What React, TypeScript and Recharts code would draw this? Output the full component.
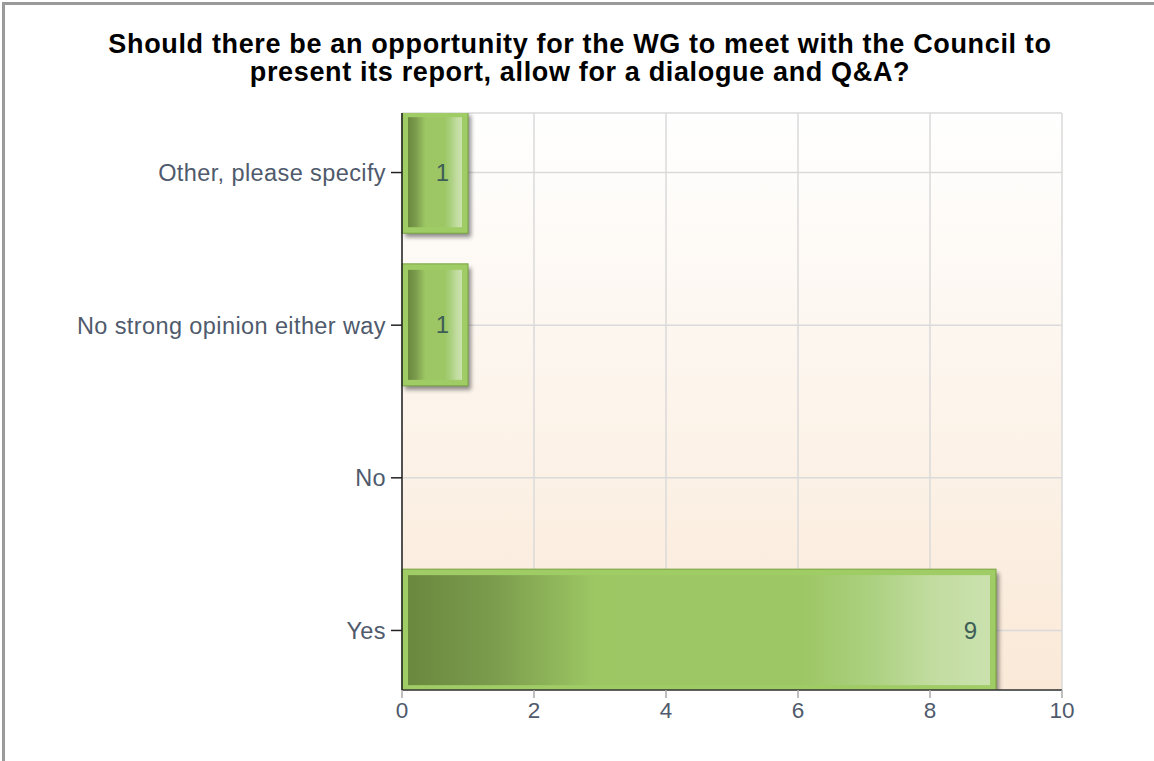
import { BarChart, Bar, XAxis, YAxis, CartesianGrid, LabelList } from 'recharts';

// answers listed top to bottom
const answers = ['Other, please specify', 'No strong opinion either way', 'No', 'Yes'];
const responses = [1, 1, 0, 9];
const countTicks = [0, 2, 4, 6, 8, 10];

const data = answers.map((answer, i) => ({ idx: i, answer, count: responses[i] }));

const FONT = '"Liberation Sans", Arial, Helvetica, sans-serif';
const TICK_COLOR = '#4f5a6c';

function GlossyBar(props: any) {
  const { x, y, width, height } = props;
  if (!width || width <= 0) return null;
  const inset = 6;
  return (
    <g>
      <rect x={x + 3} y={y + 4} width={width} height={height} fill="#333" opacity={0.55} filter="url(#barShadow)" />
      <rect x={x} y={y} width={width} height={height} fill="#9fcc64" stroke="#78a442" strokeWidth={1} />
      <rect
        x={x + inset}
        y={y + inset}
        width={Math.max(width - inset * 2, 0)}
        height={Math.max(height - inset * 2, 0)}
        fill="url(#barFill)"
      />
    </g>
  );
}

export default function App() {
  return (
    <div style={{ position: 'absolute', left: 0, top: 0, width: 1154, height: 761, background: '#fff', fontFamily: FONT }}>
      <div
        style={{
          position: 'absolute',
          left: 2,
          top: 2,
          width: 1152,
          height: 759,
          borderLeft: '3px solid #9a9a9a',
          borderTop: '3px solid #9a9a9a',
        }}
      />
      <div
        style={{
          position: 'absolute',
          left: 0,
          top: 30,
          width: 1160,
          textAlign: 'center',
          fontSize: 27,
          lineHeight: '28px',
          fontWeight: 'bold',
          letterSpacing: 0.65,
          color: '#000',
        }}
      >
        Should there be an opportunity for the WG to meet with the Council to
        <br />
        present its report, allow for a dialogue and Q&amp;A?
      </div>
      <div style={{ position: 'absolute', left: 0, top: 0 }}>
        <BarChart
          width={1154}
          height={761}
          data={data}
          layout="vertical"
          margin={{ top: 113, right: 92, bottom: 31, left: 0 }}
        >
          <defs>
            <linearGradient id="bgFill" x1="0" y1="0" x2="0" y2="1">
              <stop offset="0%" stopColor="#ffffff" />
              <stop offset="100%" stopColor="#fae9d7" />
            </linearGradient>
            <linearGradient id="barFill" x1="0" y1="0" x2="1" y2="0">
              <stop offset="0%" stopColor="#6a893e" />
              <stop offset="14%" stopColor="#7a9a4c" />
              <stop offset="32%" stopColor="#9cc763" />
              <stop offset="68%" stopColor="#9dc765" />
              <stop offset="80%" stopColor="#acd181" />
              <stop offset="90%" stopColor="#c2dca0" />
              <stop offset="100%" stopColor="#cae1ae" />
            </linearGradient>
            <filter id="barShadow" x="-10%" y="-10%" width="130%" height="130%">
              <feGaussianBlur stdDeviation="2" />
            </filter>
          </defs>
          <CartesianGrid stroke="#dadada" strokeWidth={1.5} fill="url(#bgFill)" fillOpacity={1} />
          <XAxis
            type="number"
            dataKey="count"
            domain={[0, 10]}
            ticks={countTicks}
            height={40}
            axisLine={{ stroke: '#333', strokeWidth: 1.5 }}
            tickLine={{ stroke: '#aaa', strokeWidth: 1.5 }}
            tickSize={8}
            tickMargin={4}
            tick={{ fill: TICK_COLOR, fontSize: 22.5, fontFamily: FONT }}
          />
          <YAxis
            type="number"
            dataKey="idx"
            domain={[-0.39, 3.39]}
            ticks={[0, 1, 2, 3]}
            allowDataOverflow
            width={402}
            tickFormatter={(v: number) => answers[v] ?? ''}
            axisLine={{ stroke: '#222', strokeWidth: 1.5 }}
            tickLine={{ stroke: '#222', strokeWidth: 1.5 }}
            tickSize={11}
            tickMargin={5}
            tick={{ fill: TICK_COLOR, fontSize: 23.5, fontFamily: FONT, letterSpacing: 0.4 }}
          />
          <Bar dataKey="count" barSize={122} shape={GlossyBar} isAnimationActive={false}>
            <LabelList
              dataKey="count"
              position="insideRight"
              offset={19}
              formatter={(v: any) => (v ? v : '')}
              fill="#3d5e57"
              fontSize={24}
              fontFamily={FONT}
            />
          </Bar>
        </BarChart>
      </div>
    </div>
  );
}
